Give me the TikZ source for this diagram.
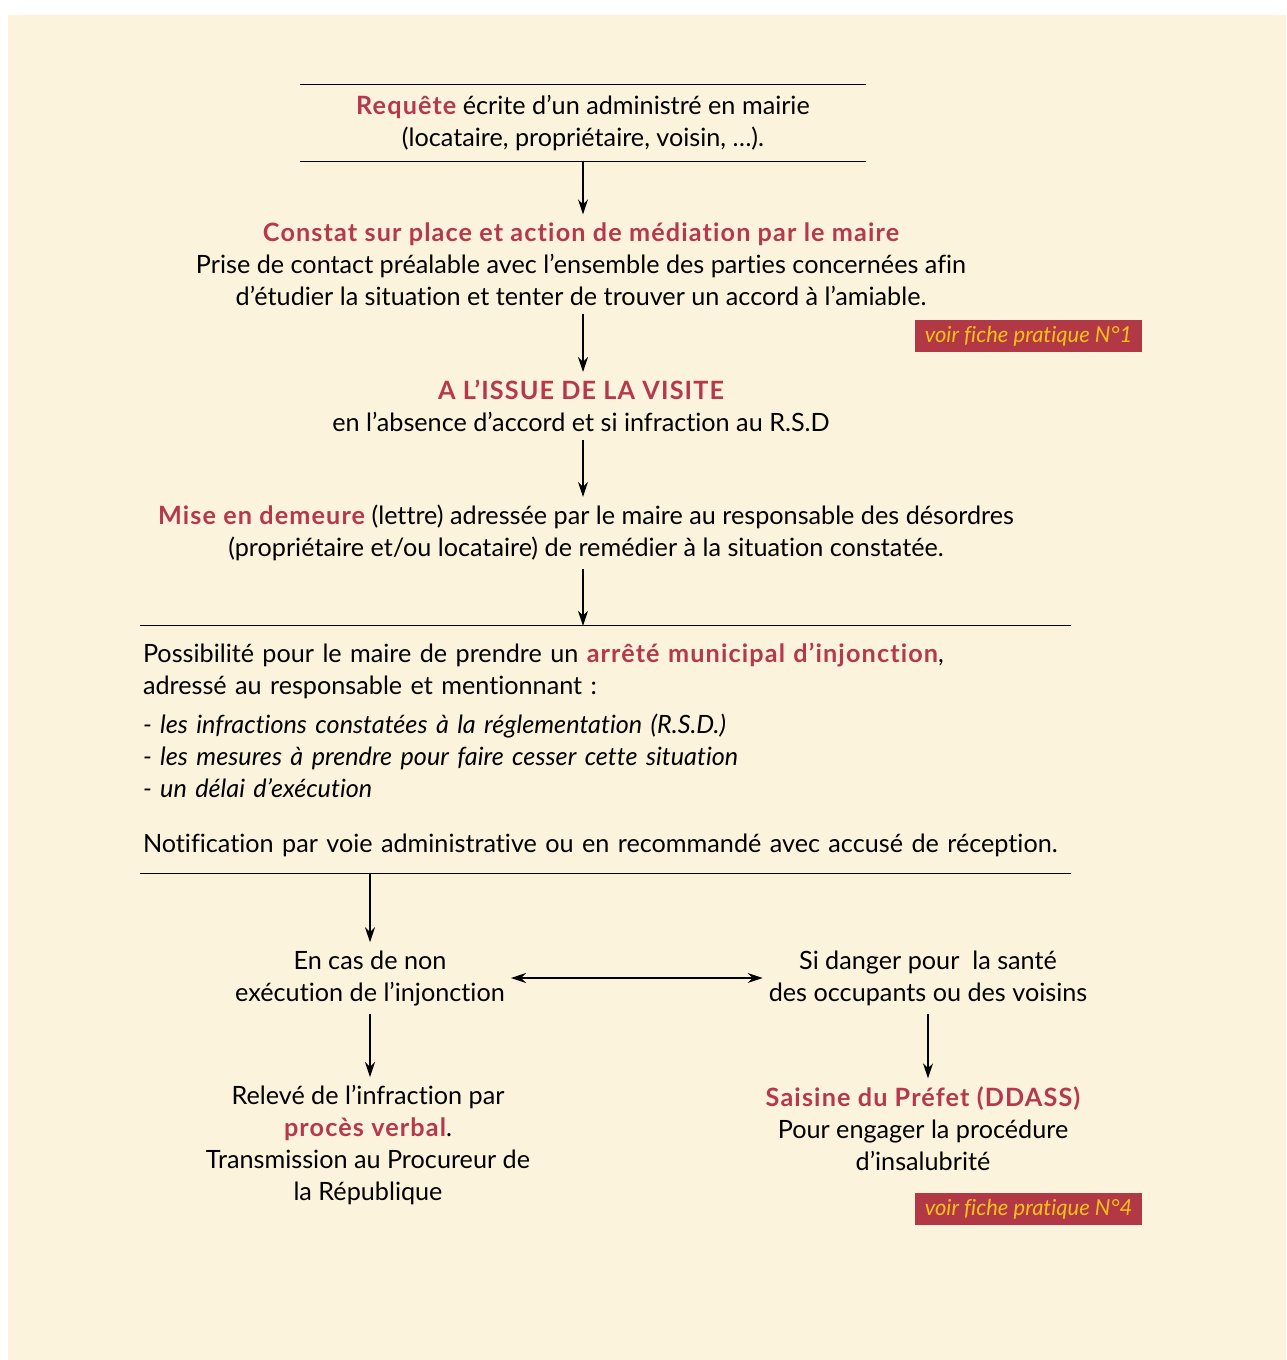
\documentclass[tikz,border=0pt]{standalone}
\usepackage{fontspec}
\setmainfont{Lato}[Ligatures=NoCommon]
\usetikzlibrary{arrows.meta}

\definecolor{creme}{HTML}{FCF3DC}
\definecolor{rouge}{HTML}{B5394A}
\definecolor{fondfiche}{HTML}{B23845}
\definecolor{textefiche}{HTML}{F6C21A}
\newcommand{\enrouge}[1]{\textcolor{rouge}{\bfseries\addfontfeatures{LetterSpace=4.5}#1}}

\begin{document}
\begin{tikzpicture}[x=1pt, y=-1pt, >={Stealth[length=15pt, width=10pt]},
    txt/.style={align=center, font=\fontsize{25.2}{32}\selectfont, inner xsep=6pt, inner ysep=8pt},
    fleche/.style={->, line width=1.3pt},
    regle/.style={line width=1.2pt},
    fiche/.style={fill=fondfiche, text=textefiche, font=\fontsize{22}{24}\selectfont\itshape,
        minimum width=227pt, minimum height=32pt, inner sep=0pt}]
    % fond
    \useasboundingbox (0,0) rectangle (1286,1360);
    \fill[white] (0,0) rectangle (1286,1360);
    \fill[creme] (8,15) rectangle (1286,1360);

    % requete
    \node[txt, minimum width=566pt, minimum height=77pt] (requete) at (583,123)
        {\enrouge{Requête} écrite d’un administré en mairie\\(locataire, propriétaire, voisin, …).};
    \draw[regle] (requete.north west) -- (requete.north east);
    \draw[regle] (requete.south west) -- (requete.south east);

    % constat
    \node[txt] (constat) at (581,264)
        {\enrouge{Constat sur place et action de médiation par le maire}\\
         Prise de contact préalable avec l’ensemble des parties concernées afin\\
         d’étudier la situation et tenter de trouver un accord à l’amiable.};
    \node[fiche] (fiche1) at (1028.5,336) {voir fiche pratique N°1};

    % issue de la visite
    \node[txt] (issue) at (581,406)
        {\enrouge{A L’ISSUE DE LA VISITE}\\en l’absence d’accord et si infraction au R.S.D};

    % mise en demeure
    \node[txt] (mise) at (586,533)
        {\enrouge{Mise en demeure} (lettre) adressée par le maire au responsable des désordres\\
         (propriétaire et/ou locataire) de remédier à la situation constatée.};

    % arrete municipal
    \node[txt, align=left, text width=925pt, inner xsep=3pt, minimum height=247pt] (arrete) at (605.5,749.5)
        {Possibilité pour le maire de prendre un \enrouge{arrêté municipal d’injonction},\\
         adressé au responsable et mentionnant :\\[7pt]
         {\itshape - les infractions constatées à la réglementation (R.S.D.)}\\
         {\itshape - les mesures à prendre pour faire cesser cette situation}\\
         {\itshape - un délai d’exécution}\\[23pt]
         Notification par voie administrative ou en recommandé avec accusé de réception.};
    \draw[regle] (arrete.north west) -- (arrete.north east);
    \draw[regle] (arrete.south west) -- (arrete.south east);

    % deux branches
    \node[txt] (nonexec) at (370,978) {En cas de non\\exécution de l’injonction};
    \node[txt] (danger) at (928,978) {Si danger pour\ \ la santé\\des occupants ou des voisins};
    \node[txt] (releve) at (368,1145)
        {Relevé de l’infraction par\\\enrouge{procès verbal}.\\Transmission au Procureur de\\la République};
    \node[txt] (saisine) at (923,1128.5)
        {\enrouge{Saisine du Préfet (DDASS)}\\Pour engager la procédure\\d’insalubrité};
    \node[fiche] (fiche4) at (1028.5,1209) {voir fiche pratique N°4};

    % fleches
    \draw[fleche] (requete.south) -- (requete.south |- constat.north);
    \draw[fleche] (requete.south |- constat.south) -- (requete.south |- issue.north);
    \draw[fleche] (requete.south |- issue.south) -- (requete.south |- mise.north);
    \draw[fleche] (requete.south |- mise.south) -- (requete.south |- arrete.north);
    \draw[fleche] (nonexec.north |- arrete.south) -- (nonexec.north);
    \draw[fleche, <->] (nonexec) -- (danger);
    \draw[fleche] (nonexec.south) -- (nonexec.south |- releve.north);
    \draw[fleche] (danger.south) -- (danger.south |- saisine.north);
\end{tikzpicture}
\end{document}
